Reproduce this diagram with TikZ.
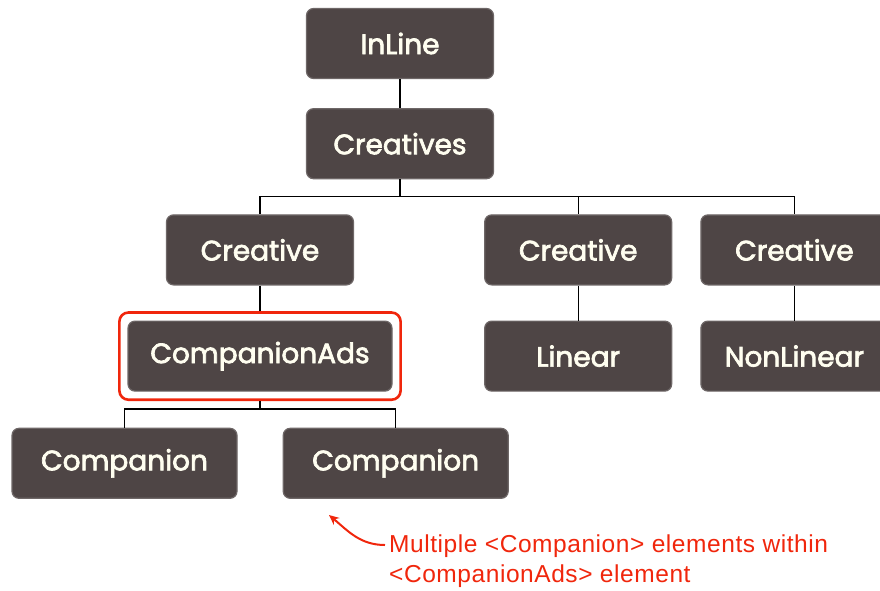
\documentclass[tikz,border=0pt]{standalone}
\usepackage{fontspec}
\usepackage{tikz}
\usepackage{xcolor}
\usetikzlibrary{positioning,fit,arrows.meta}
\newfontfamily\boxfont[FakeBold=2.5]{Poppins}
\newfontfamily\notefont[LetterSpace=2.3]{Liberation Sans}
\definecolor{box-fill}{HTML}{4E4545}
\definecolor{box-edge}{HTML}{6E6767}
\definecolor{note-red}{HTML}{F0260C}

\begin{document}
\begin{tikzpicture}
[
x = 1pt, y = 1pt,
box-a/.style={rectangle, rounded corners = 7pt, fill = box-fill, draw = box-edge, line width = 1.2pt, text = white!94!yellow, minimum width = 187pt, minimum height = 70pt, font = \boxfont\fontsize{28}{32}\selectfont},
box-b/.style={box-a, minimum width = 264pt},
box-c/.style={box-a, minimum width = 225pt},
frame-a/.style={rectangle, rounded corners = 9pt, draw = note-red, line width = 2.6pt, inner sep = 8pt},
link-a/.style={black, line width = 1.4pt},
note-a/.style={note-red, align = left, inner sep = 0pt, font = \notefont\fontsize{24.5}{30}\selectfont},
arrow-a/.style={note-red, line width = 2pt, -{Stealth[length = 10pt, width = 9pt]}}
]
\useasboundingbox (0,0) rectangle (880,-590);
\node (inline)       [box-a] at (400,-43.5)                       {InLine};
\node (creatives)    [box-a, below =  29pt of inline     ]         {Creatives};
\node (creative-1)   [box-a, below =  35pt of creatives, xshift = -140pt] {Creative};
\node (creative-2)   [box-a, right = 130pt of creative-1 ]         {Creative};
\node (creative-3)   [box-a, right =  28pt of creative-2 ]         {Creative};
\node (companionads) [box-b, below =  35pt of creative-1 ]         {CompanionAds};
\node (linear)       [box-a, below =  35pt of creative-2 ]         {Linear};
\node (nonlinear)    [box-a, below =  35pt of creative-3 ]         {NonLinear};
\node (companion-1)  [box-c, below =  36pt of companionads, xshift = -135.5pt] {Companion};
\node (companion-2)  [box-c, right =  45pt of companion-1]         {Companion};
\node (frame)        [frame-a, fit = (companionads)]               {};
% links
\draw [link-a] (inline) -- (creatives);
\draw [link-a] (creatives.south) -- ++(0,-17) -| (creative-1.north);
\draw [link-a] (creatives.south) -- ++(0,-17) -| (creative-2.north);
\draw [link-a] (creatives.south) -- ++(0,-17) -| (creative-3.north);
\draw [link-a] (creative-1) -- (frame);
\draw [link-a] (creative-2) -- (linear);
\draw [link-a] (creative-3) -- (nonlinear);
\draw [link-a] (frame.south) -- ++(0,-8) -| (companion-1.north);
\draw [link-a] (frame.south) -- ++(0,-8) -| (companion-2.north);
% note
\node (note)         [note-a, anchor = north west] at (389,-535) {Multiple <Companion> elements within\\<CompanionAds> element};
\coordinate (note-tip) at (329,-515);
\draw [arrow-a] ([xshift = -4pt, yshift = -10pt]note.north west) to [out = 180, in = -40] (note-tip);
\end{tikzpicture}
\end{document}
